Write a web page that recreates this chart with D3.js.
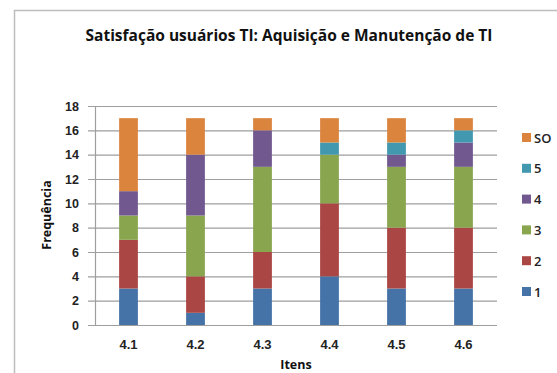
<!DOCTYPE html>
<html>
<head>
<meta charset="utf-8">
<script src="https://cdn.jsdelivr.net/npm/d3@7"></script>
<style>
  html, body { margin: 0; padding: 0; background: #fff; }
  svg { display: block; font-family: "Open Sans", "DejaVu Sans", sans-serif; }
</style>
</head>
<body>
<svg id="chart" width="557" height="373"></svg>
<script>
// Items on the x axis
const categories = ["4.1", "4.2", "4.3", "4.4", "4.5", "4.6"];
// Response levels, stacked bottom to top
const seriesNames = ["1", "2", "3", "4", "5", "SO"];
const values1  = [3, 1, 3, 4, 3, 3];
const values2  = [4, 3, 3, 6, 5, 5];
const values3  = [2, 5, 7, 4, 5, 5];
const values4  = [2, 5, 3, 0, 1, 2];
const values5  = [0, 0, 0, 1, 1, 1];
const valuesSO = [6, 3, 1, 2, 2, 1];
const yTicks = [0, 2, 4, 6, 8, 10, 12, 14, 16, 18];
const colors = ["#4572A7", "#AA4643", "#89A54E", "#71588F", "#4198AF", "#DB843D"];

const seriesValues = [values1, values2, values3, values4, values5, valuesSO];
const rows = categories.map((c, i) => {
  const r = { item: c };
  seriesNames.forEach((s, k) => { r[s] = seriesValues[k][i]; });
  return r;
});

const svg = d3.select("#chart");

// Outer chart frame
svg.append("rect")
  .attr("x", 14.5).attr("y", 10.5)
  .attr("width", 560).attr("height", 380)
  .attr("fill", "#fff").attr("stroke", "#bdbdbd").attr("stroke-width", 1.5);

const plot = { left: 95, right: 497, top: 106, bottom: 325 };

const x = d3.scaleBand().domain(categories).range([plot.left, plot.right]).paddingInner(0.72).paddingOuter(0.36);
const y = d3.scaleLinear().domain([0, 18]).range([plot.bottom, plot.top]);

const stack = d3.stack().keys(seriesNames);
const layers = stack(rows);

// Horizontal gridlines
svg.append("g")
  .selectAll("line")
  .data(yTicks)
  .join("line")
  .attr("x1", plot.left - 7).attr("x2", plot.right)
  .attr("y1", d => y(d) + 0.5).attr("y2", d => y(d) + 0.5)
  .attr("stroke", "#9e9e9e").attr("stroke-width", 1.2);

// Vertical axis line
svg.append("line")
  .attr("x1", plot.left + 0.5).attr("x2", plot.left + 0.5)
  .attr("y1", plot.top).attr("y2", plot.bottom + 0.5)
  .attr("stroke", "#9e9e9e").attr("stroke-width", 1.2);

// Stacked bars
svg.append("g")
  .selectAll("g")
  .data(layers)
  .join("g")
  .attr("fill", (d, i) => colors[i])
  .selectAll("rect")
  .data(d => d)
  .join("rect")
  .attr("x", d => x(d.data.item))
  .attr("width", x.bandwidth())
  .attr("y", d => y(d[1]))
  .attr("height", d => y(d[0]) - y(d[1]));

// Y axis tick labels
const yAxis = d3.axisLeft(y).tickValues(yTicks).tickSize(0).tickPadding(16);
const gy = svg.append("g").attr("transform", `translate(${plot.left},0)`).call(yAxis);
gy.select(".domain").remove();
gy.selectAll("text").attr("font-size", 12.5).attr("font-weight", 600).attr("fill", "#222");

// X axis tick labels
const xAxis = d3.axisBottom(x).tickSize(0).tickPadding(15);
const gx = svg.append("g").attr("transform", `translate(0,${plot.bottom})`).call(xAxis);
gx.select(".domain").remove();
gx.selectAll("text").attr("font-size", 13).attr("font-weight", 600).attr("fill", "#222");

// Title
svg.append("text")
  .attr("x", 289).attr("y", 41)
  .attr("text-anchor", "middle")
  .attr("font-size", 15.5).attr("font-weight", 700).attr("fill", "#111")
  .text("Satisfação usuários TI: Aquisição e Manutenção de TI");

// Axis titles
svg.append("text")
  .attr("transform", "translate(51,215) rotate(-90)")
  .attr("text-anchor", "middle")
  .attr("font-size", 12.5).attr("font-weight", 700).attr("fill", "#111")
  .text("Frequência");

svg.append("text")
  .attr("x", (plot.left + plot.right) / 2).attr("y", 369)
  .attr("text-anchor", "middle")
  .attr("font-size", 12.5).attr("font-weight", 700).attr("fill", "#111")
  .text("Itens");

// Legend, top entry is the last stacked series
const legendItems = seriesNames.slice().reverse();
const legend = svg.append("g").attr("transform", "translate(522,138)");
legendItems.forEach((name, i) => {
  const g = legend.append("g").attr("transform", `translate(0,${i * 30.8})`);
  g.append("rect").attr("x", 0).attr("y", -5).attr("width", 9).attr("height", 9)
    .attr("fill", colors[seriesNames.indexOf(name)]);
  g.append("text").attr("x", 12).attr("y", 0).attr("dy", "0.35em")
    .attr("font-size", 13).attr("font-weight", 600).attr("fill", "#222")
    .text(name);
});
</script>
</body>
</html>
